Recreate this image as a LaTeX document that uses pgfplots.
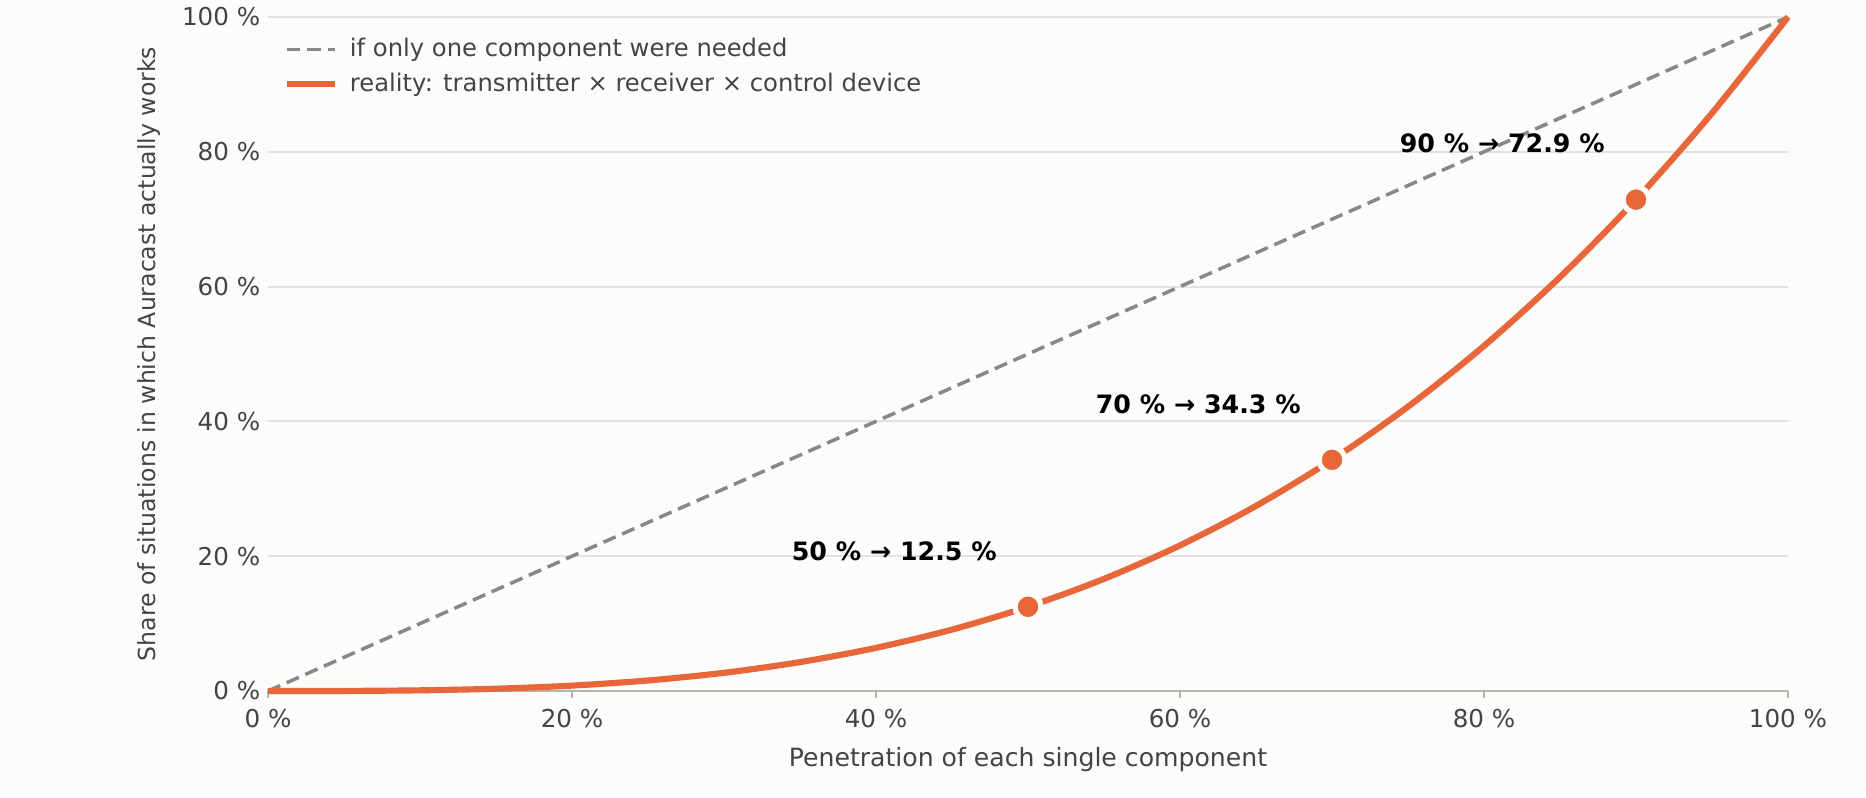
\documentclass[border=0pt]{standalone}
\usepackage{pgfplots}
\pgfplotsset{compat=1.18}
\usepackage{fontspec}
\setmainfont{DejaVu Sans}
\definecolor{bgc}{HTML}{FCFCFA}
\definecolor{txt}{HTML}{444444}
\definecolor{orng}{HTML}{E8673A}
\definecolor{dgray}{HTML}{888888}
\definecolor{gridc}{HTML}{E2E2E0}
\definecolor{axc}{HTML}{B5B5B0}
\pgfplotsset{mylegline/.style={legend image code/.code={\draw[##1] (0cm,0cm) -- (0.48cm,0cm);}}}
\pgfplotsset{every axis plot/.append style={mylegline}}
\newcommand{\fs}{\fontsize{6.9}{8.2}\selectfont}
\begin{document}
\fs
\begin{tikzpicture}
\fill[bgc] (-2.68cm,-1.06cm) rectangle (15.98cm,6.91cm);
\begin{axis}[
  at={(0,0)}, anchor=south west,
  scale only axis, width=15.2cm, height=6.74cm,
  xmin=0, xmax=1, ymin=0, ymax=1,
  axis lines*=left,
  y axis line style={draw=none},
  x axis line style={draw=axc, line width=0.6pt},
  xtick={0,0.2,0.4,0.6,0.8,1},
  xticklabels={0 \%,20 \%,40 \%,60 \%,80 \%,100 \%},
  ytick={0,0.2,0.4,0.6,0.8,1},
  yticklabels={0 \%,20 \%,40 \%,60 \%,80 \%,100 \%},
  tick align=outside,
  major tick length=0.07cm,
  xtick style={draw=axc, line width=0.6pt},
  ytick style={draw=none},
  ymajorgrids,
  grid style={draw=gridc, line width=0.6pt},
  tick label style={text=txt, font=\fontsize{7}{8.3}\selectfont},
  xticklabel style={yshift=-0.02cm},
  yticklabel style={xshift=0.08cm},
  xlabel={Penetration of each single component},
  ylabel={Share of situations in which Auracast actually works},
  label style={text=txt},
  xlabel style={font=\fontsize{7.15}{8.5}\selectfont, at={(axis description cs:0.5,0)}, anchor=center, yshift=-0.69cm},
  ylabel style={font=\fontsize{6.7}{8}\selectfont, at={(axis description cs:0,0.5)}, anchor=center, yshift=1.19cm},
  legend style={at={(0.003,0.99)}, anchor=north west, draw=none, fill=none,
    text=txt, font=\fs, row sep=-0.02cm,
    nodes={inner xsep=0.12cm}},
  legend cell align=left,
  clip=false,
]
\addplot[dgray, line width=1pt, dash pattern=on 3.8pt off 2pt]
  coordinates {(0,0) (1,1)};
\addlegendentry{if only one component were needed}
\addplot[orng, line width=1.75pt, smooth]
  coordinates {
  (0,0) (0.05,0.000125) (0.1,0.001) (0.15,0.003375) (0.2,0.008)
  (0.25,0.015625) (0.3,0.027) (0.35,0.042875) (0.4,0.064) (0.45,0.091125)
  (0.5,0.125) (0.55,0.166375) (0.6,0.216) (0.65,0.274625) (0.7,0.343)
  (0.75,0.421875) (0.8,0.512) (0.85,0.614125) (0.9,0.729) (0.95,0.857375)
  (1,1)};
\addlegendentry{reality: transmitter × receiver × control device}
\addplot[only marks, forget plot, mark=*, mark size=3.7pt,
  mark options={fill=orng, draw=bgc, line width=1.5pt}]
  coordinates {(0.5,0.125) (0.7,0.343) (0.9,0.729)};
\node[font=\bfseries\fontsize{7.2}{8.6}\selectfont, text=black] at (axis cs:0.412,0.208) {50 \% → 12.5 \%};
\node[font=\bfseries\fontsize{7.2}{8.6}\selectfont, text=black] at (axis cs:0.612,0.426) {70 \% → 34.3 \%};
\node[font=\bfseries\fontsize{7.2}{8.6}\selectfont, text=black] at (axis cs:0.812,0.813) {90 \% → 72.9 \%};
\end{axis}
\pgfresetboundingbox
\useasboundingbox (-2.68cm,-1.06cm) rectangle (15.98cm,6.91cm);
\end{tikzpicture}
\end{document}
